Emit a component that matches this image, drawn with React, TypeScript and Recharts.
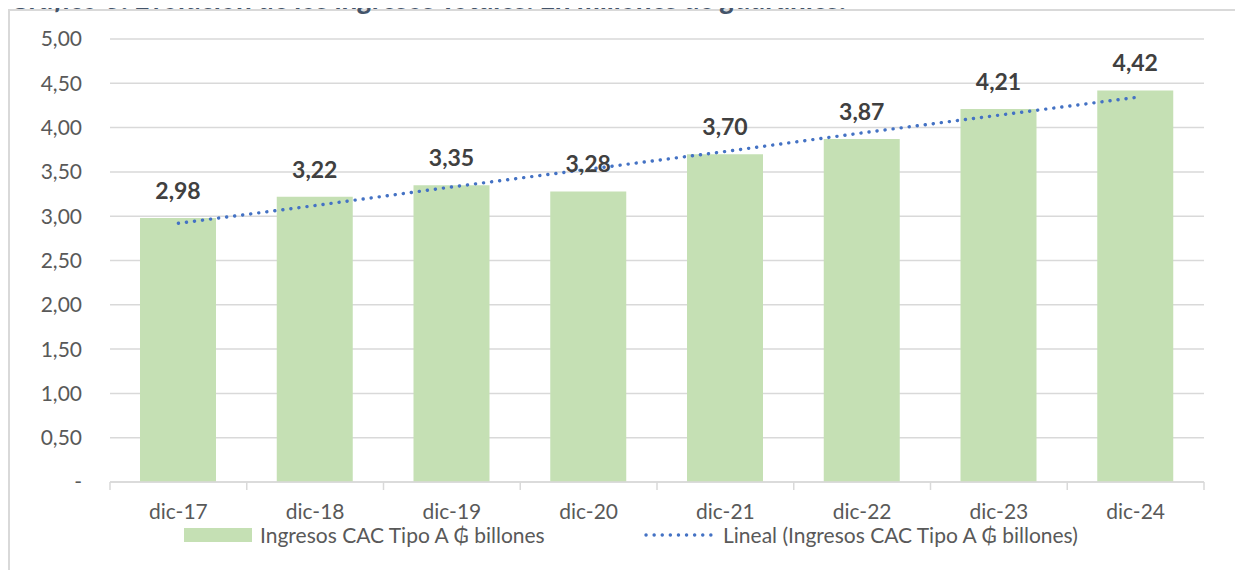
import React from 'react'
import { ComposedChart, Bar, Line, XAxis, YAxis, CartesianGrid, LabelList } from 'recharts'

const categories = ['dic-17', 'dic-18', 'dic-19', 'dic-20', 'dic-21', 'dic-22', 'dic-23', 'dic-24']
const ingresos = [2.98, 3.22, 3.35, 3.28, 3.7, 3.87, 4.21, 4.42]
// values
const tendencia = [2.92, 3.12, 3.33, 3.53, 3.73, 3.94, 4.14, 4.34]
const yTicks = [0, 0.5, 1, 1.5, 2, 2.5, 3, 3.5, 4, 4.5, 5]

const title = 'Gráfico 3. Evolución de los ingresos Totales. En millones de guaraníes.'
const seriesName = 'Ingresos CAC Tipo A ₲ billones'
const trendName = 'Lineal (Ingresos CAC Tipo A ₲ billones)'

const FONT = 'Lato, "Open Sans", sans-serif'
const GRID = '#d9d9d9'
const TEXT = '#595959'
const BAR = '#C5E0B4'
const TREND = '#4472C4'

const fmt = (v: number) => (v === 0 ? '-' : v.toFixed(2).replace('.', ','))

const data = categories.map((cat, i) => ({
  cat,
  ingresos: ingresos[i],
  tendencia: tendencia[i],
}))

// Excel style: tick marks sit between the categories, label in the middle
const CategoryTick = (props: any) => {
  const { x, y, payload, index } = props
  const half = payload && payload.offset ? payload.offset : 68.4
  const last = index === categories.length - 1
  return (
    <g>
      <line x1={x - half} x2={x - half} y1={y} y2={y + 8} stroke={GRID} strokeWidth={1.5} />
      {last && <line x1={x + half} x2={x + half} y1={y} y2={y + 8} stroke={GRID} strokeWidth={1.5} />}
      <text x={x} y={y} dy={37} textAnchor="middle" fill={TEXT} fontSize={21} fontFamily={FONT}>
        {payload.value}
      </text>
    </g>
  )
}

export default function App() {
  return (
    <div
      style={{
        position: 'relative',
        width: 1243,
        height: 578,
        margin: -8,
        overflow: 'hidden',
        background: '#fff',
        fontFamily: FONT,
      }}
    >
      <div
        style={{
          position: 'absolute',
          left: 8,
          top: 9,
          width: 1400,
          height: 800,
          border: `2px solid ${GRID}`,
        }}
      />
      {/* the title is cropped at the top edge in the original */}
      <svg width={1243} height={30} style={{ position: 'absolute', left: 0, top: 0 }}>
        <text x={10} y={9} fill="#44546A" fontSize={29} fontWeight="bold" fontStyle="italic" fontFamily={FONT}>
          {title}
        </text>
      </svg>
      <div style={{ position: 'absolute', left: 0, top: 0 }}>
        <ComposedChart width={1243} height={578} data={data} margin={{ top: 39, right: 39, bottom: 56, left: 0 }}>
          <CartesianGrid vertical={false} stroke={GRID} strokeWidth={1.5} />
          <XAxis
            dataKey="cat"
            height={40}
            tickSize={0}
            tickMargin={0}
            tickLine={false}
            axisLine={{ stroke: GRID, strokeWidth: 1.5 }}
            tick={<CategoryTick />}
            interval={0}
          />
          <YAxis
            width={110}
            domain={[0, 5]}
            ticks={yTicks}
            tickFormatter={fmt}
            axisLine={false}
            tickLine={false}
            tickSize={0}
            tickMargin={28}
            tick={{ fill: TEXT, fontSize: 21, fontFamily: FONT }}
          />
          <Bar dataKey="ingresos" fill={BAR} barSize={76} isAnimationActive={false}>
            <LabelList
              dataKey="ingresos"
              position="top"
              offset={19}
              formatter={(v: any) => fmt(Number(v))}
              fill="#404040"
              fontSize={23}
              fontWeight="bold"
              fontFamily={FONT}
            />
          </Bar>
          <Line
            dataKey="tendencia"
            type="linear"
            stroke={TREND}
            strokeWidth={3.4}
            strokeDasharray="0.1 8"
            strokeLinecap="round"
            dot={false}
            activeDot={false}
            isAnimationActive={false}
          />
        </ComposedChart>
      </div>
      <div style={{ position: 'absolute', left: 184, top: 528, width: 68, height: 14, background: BAR }} />
      <div
        style={{
          position: 'absolute',
          left: 260,
          top: 522,
          lineHeight: '26px',
          fontSize: 21,
          color: TEXT,
          whiteSpace: 'nowrap',
        }}
      >
        {seriesName}
      </div>
      <svg width={80} height={10} style={{ position: 'absolute', left: 640, top: 530 }}>
        <line x1={6} x2={74} y1={5} y2={5} stroke={TREND} strokeWidth={3.4} strokeDasharray="0.1 8" strokeLinecap="round" />
      </svg>
      <div
        style={{
          position: 'absolute',
          left: 723,
          top: 522,
          lineHeight: '26px',
          fontSize: 21,
          color: TEXT,
          whiteSpace: 'nowrap',
        }}
      >
        {trendName}
      </div>
    </div>
  )
}
